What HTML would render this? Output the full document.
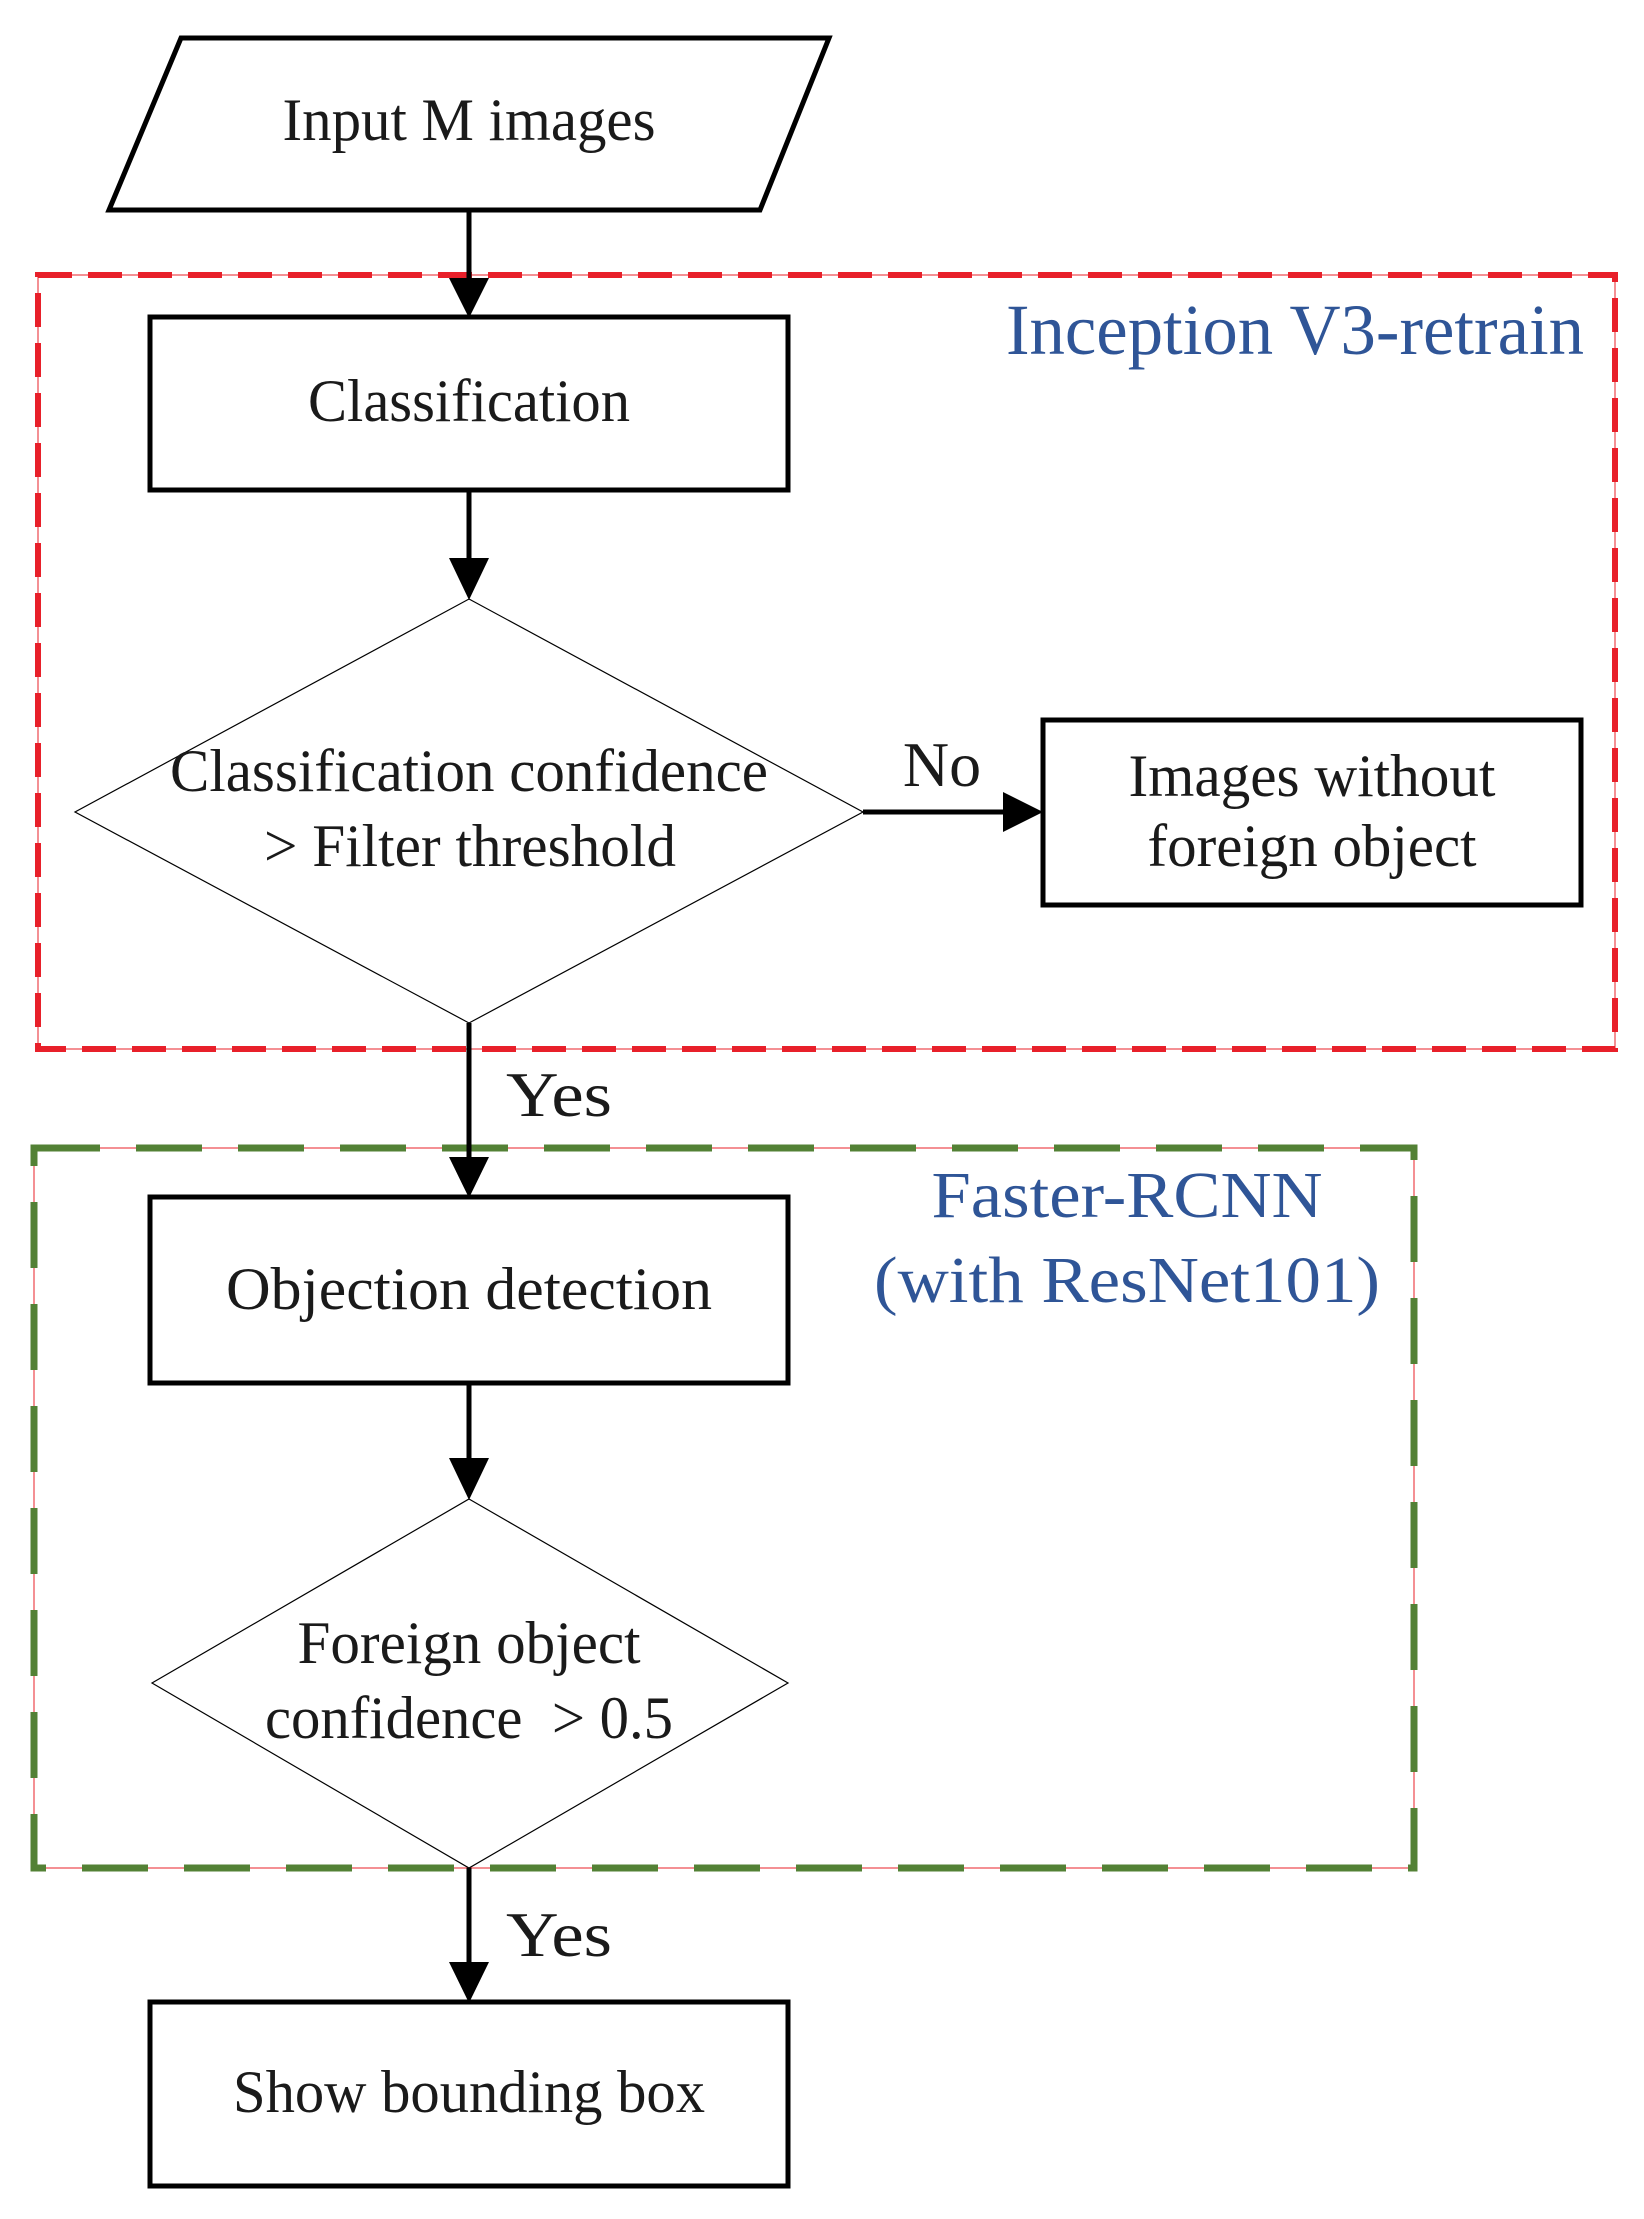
<!DOCTYPE html>
<html><head><meta charset="utf-8"><style>
html,body{margin:0;padding:0;background:#fff;}
svg{display:block;}
text{font-family:"Liberation Serif",serif;fill:#1a1a1a;}
</style></head><body>
<svg width="1644" height="2219" viewBox="0 0 1644 2219" xmlns="http://www.w3.org/2000/svg">
<!-- red group box -->
<rect x="38" y="275" width="1577" height="774" fill="none" stroke="#e8202a" stroke-width="1"/>
<rect x="38" y="275" width="1577" height="774" fill="none" stroke="#e8202a" stroke-width="6" stroke-dasharray="34,16"/>
<text x="1584" y="354" font-size="72" text-anchor="end" textLength="578" lengthAdjust="spacingAndGlyphs" style="fill:#2f5597">Inception V3-retrain</text>
<!-- green group box -->
<rect x="34" y="1148" width="1380" height="720" fill="none" stroke="#e8202a" stroke-width="1"/>
<rect x="34" y="1148" width="1380" height="720" fill="none" stroke="#538135" stroke-width="7" stroke-dasharray="66,36"/>
<text x="1127" y="1217" font-size="66" text-anchor="middle" textLength="391" lengthAdjust="spacingAndGlyphs" style="fill:#2f5597">Faster-RCNN</text>
<text x="1127" y="1302" font-size="66" text-anchor="middle" textLength="506" lengthAdjust="spacingAndGlyphs" style="fill:#2f5597">(with ResNet101)</text>

<g stroke="#000" stroke-width="5" fill="none">
<line x1="469" y1="210" x2="469" y2="280"/>
<line x1="469" y1="490" x2="469" y2="560"/>
<line x1="863" y1="812" x2="1005" y2="812"/>
<line x1="469" y1="1023" x2="469" y2="1160"/>
<line x1="469" y1="1383" x2="469" y2="1460"/>
<line x1="469" y1="1868" x2="469" y2="1965"/>
</g>
<g fill="#000">
<polygon points="449,278 489,278 469,318"/>
<polygon points="449,558 489,558 469,600"/>
<polygon points="1003,792 1003,832 1043,812"/>
<polygon points="449,1157 489,1157 469,1198"/>
<polygon points="449,1458 489,1458 469,1500"/>
<polygon points="449,1962 489,1962 469,2003"/>
</g>

<polygon points="181,38 829,38 760,210 109,210" fill="#fff" stroke="#000" stroke-width="5"/>
<text x="469" y="140" font-size="60" text-anchor="middle" textLength="373" lengthAdjust="spacingAndGlyphs">Input M images</text>

<rect x="150" y="317" width="638" height="173" fill="#fff" stroke="#000" stroke-width="5"/>
<text x="469" y="421" font-size="60" text-anchor="middle" textLength="322" lengthAdjust="spacingAndGlyphs">Classification</text>

<polygon points="469,599 863,812 469,1023 75,812" fill="none" stroke="#000" stroke-width="1.2"/>
<text x="469" y="791" font-size="60" text-anchor="middle" textLength="598" lengthAdjust="spacingAndGlyphs">Classification confidence</text>
<text x="470" y="866" font-size="60" text-anchor="middle" textLength="412" lengthAdjust="spacingAndGlyphs">&gt; Filter threshold</text>
<text x="942" y="786" font-size="64" text-anchor="middle">No</text>

<rect x="1043" y="720" width="538" height="185" fill="#fff" stroke="#000" stroke-width="5"/>
<text x="1312" y="796" font-size="60" text-anchor="middle" textLength="367" lengthAdjust="spacingAndGlyphs">Images without</text>
<text x="1312" y="866" font-size="60" text-anchor="middle" textLength="329" lengthAdjust="spacingAndGlyphs">foreign object</text>

<text x="506" y="1116" font-size="64" textLength="106" lengthAdjust="spacingAndGlyphs">Yes</text>

<rect x="150" y="1197" width="638" height="186" fill="#fff" stroke="#000" stroke-width="5"/>
<text x="469" y="1309" font-size="60" text-anchor="middle" textLength="486" lengthAdjust="spacingAndGlyphs">Objection detection</text>

<polygon points="469,1499 788,1683 469,1868 152,1683" fill="none" stroke="#000" stroke-width="1.2"/>
<text x="469" y="1663" font-size="60" text-anchor="middle" textLength="343" lengthAdjust="spacingAndGlyphs">Foreign object</text>
<text x="469" y="1738" font-size="60" text-anchor="middle" textLength="408" lengthAdjust="spacingAndGlyphs">confidence &#160;&gt; 0.5</text>

<text x="506" y="1956" font-size="64" textLength="106" lengthAdjust="spacingAndGlyphs">Yes</text>

<rect x="150" y="2002" width="638" height="184" fill="#fff" stroke="#000" stroke-width="5"/>
<text x="469" y="2112" font-size="60" text-anchor="middle" textLength="472" lengthAdjust="spacingAndGlyphs">Show bounding box</text>
</svg>
</body></html>
